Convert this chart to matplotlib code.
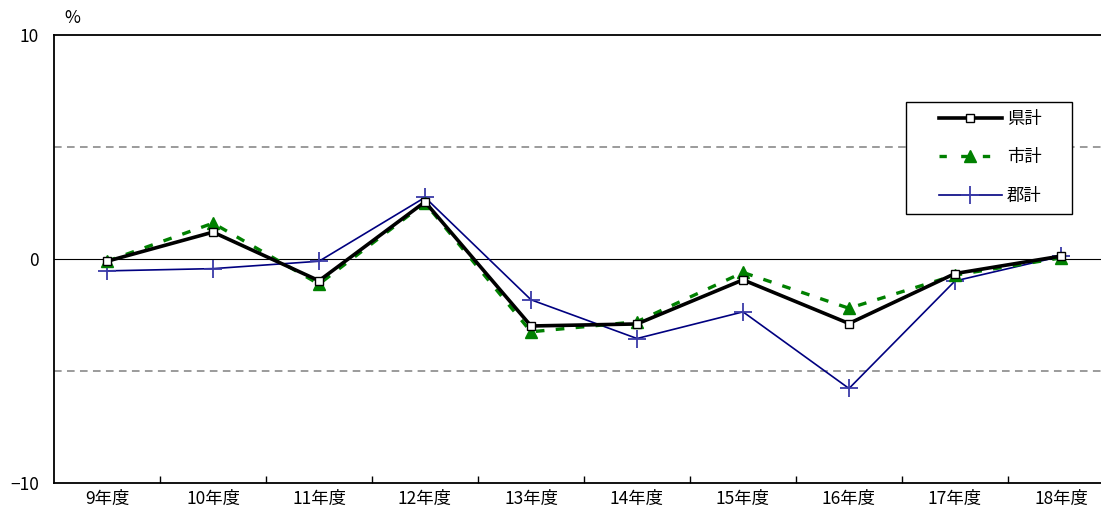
import matplotlib
matplotlib.use("Agg")
import matplotlib.pyplot as plt
from matplotlib.lines import Line2D
from matplotlib.patches import Rectangle

plt.rcParams['font.family'] = ['Noto Sans CJK JP', 'DejaVu Sans']

categories = ['9年度', '10年度', '11年度', '12年度', '13年度', '14年度', '15年度', '16年度', '17年度', '18年度']
ken = [-0.1, 1.2, -0.97, 2.55, -2.99, -2.9, -0.93, -2.88, -0.65, 0.13]
shi = [-0.1, 1.6, -1.12, 2.5, -3.25, -2.8, -0.6, -2.2, -0.72, 0.05]
gun = [-0.53, -0.43, -0.1, 2.75, -1.82, -3.55, -2.36, -5.78, -0.98, 0.12]
series_labels = ['県計', '市計', '郡計']
y_ticks = [-10, 0, 10]

fig = plt.figure(figsize=(11.01, 5.17), dpi=100)
W, H = 1101, 517
left, right, top, bottom = 54, 1101, 35, 483
ax = fig.add_axes([left / W, 1 - bottom / H, (right - left) / W, (bottom - top) / H])

x = list(range(len(categories)))
ax.set_xlim(-0.5, -0.5 + (right - left) / 106.0)
ax.set_ylim(-10, 10)

for yv in (5, -5):
    ax.axhline(yv, color='#808080', lw=1.1, dashes=(5, 3.5), zorder=1)
ax.axhline(0, color='black', lw=0.8, zorder=1)

green_dash = (2.6, 3.4)
ax.plot(x, gun, color='#000080', lw=1.2, marker='+', markersize=13, markeredgewidth=1.3,
        markeredgecolor='#3a3aa8', zorder=3, label=series_labels[2])
ax.plot(x, shi, color='#008000', lw=2.4, dashes=green_dash, marker='^', markersize=8,
        markerfacecolor='#008000', markeredgecolor='#008000', zorder=4, label=series_labels[1])
ax.plot(x, ken, color='black', lw=2.6, marker='s', markersize=5.5, markerfacecolor='white',
        markeredgecolor='black', markeredgewidth=1.0, zorder=5, label=series_labels[0])

ax.spines['right'].set_visible(False)
for s in ('left', 'top', 'bottom'):
    ax.spines[s].set_linewidth(1.3)

ax.set_yticks(y_ticks)
ax.set_yticklabels([str(v).replace('-', '\u2212') for v in y_ticks], fontsize=12.5)
ax.tick_params(axis='y', length=0, pad=11)

ax.set_xticks([i + 0.5 for i in range(len(categories) - 1)])
ax.set_xticklabels([])
ax.set_xticks(x, minor=True)
ax.set_xticklabels(categories, minor=True, fontsize=12.5)
ax.tick_params(axis='x', which='major', direction='in', length=5, width=1)
ax.tick_params(axis='x', which='minor', length=0, pad=5)

fig.text(72 / W, 1 - 18 / H, '%', fontsize=12.5, ha='center', va='center')

# legend
fig.patches.append(Rectangle((906 / W, 1 - 214 / H), (1072 - 906) / W, (214 - 102) / H,
                             transform=fig.transFigure, facecolor='white', edgecolor='black',
                             lw=1.0, zorder=10))
handles = [
    Line2D([], [], color='black', lw=2.6, marker='s', markersize=5.5, markerfacecolor='white',
           markeredgecolor='black'),
    Line2D([], [], color='#008000', lw=2.4, dashes=(2.2, 4.3), marker='^', markersize=8,
           markerfacecolor='#008000', markeredgecolor='#008000'),
    Line2D([], [], color='#000080', lw=1.2, marker='+', markersize=13, markeredgewidth=1.3,
           markeredgecolor='#3a3aa8'),
]
leg = fig.legend(handles, series_labels, loc='center left',
                 bbox_to_anchor=(939 / W, 1 - 157.5 / H),
                 fontsize=12.5, frameon=False,
                 handlelength=3.6, handletextpad=0.3, labelspacing=1.2, borderpad=0,
                 borderaxespad=0)
leg.set_zorder(11)

fig.savefig('out.png', dpi=100)
